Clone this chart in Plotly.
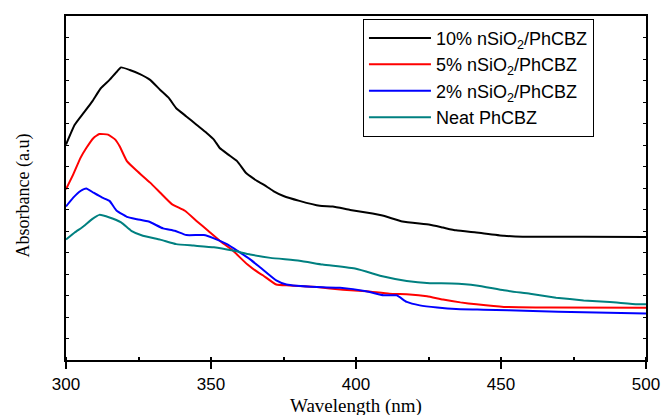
import plotly.graph_objects as go

# ---- data ----
wl_10 = [300, 303, 306, 309, 312, 315, 317.5, 319, 322, 325.5, 329, 332.5, 335.5, 338, 341.5, 345,
         348.5, 351, 353, 356, 359, 362, 363.5, 366, 368, 371.5, 375, 380.5, 387.5, 392, 398, 403.5,
         409.5, 416, 425.5, 430, 434.5, 441.5, 451, 457.5, 467, 478.5, 500]
abs_10 = [10.02, 10.94, 11.48, 12.02, 12.64, 13.03, 13.41, 13.61, 13.49, 13.30, 13.03, 12.56, 12.18,
          11.71, 11.33, 10.94, 10.56, 10.25, 9.86, 9.55, 9.25, 8.71, 8.55, 8.32, 8.17, 7.86, 7.63,
          7.40, 7.17, 7.14, 6.98, 6.86, 6.71, 6.44, 6.29, 6.16, 6.03, 5.93, 5.78, 5.73, 5.73, 5.73, 5.72]

wl_5 = [300, 302.5, 305, 307, 309.5, 311.5, 314.5, 317, 318.5, 321, 324.5, 329, 332.5, 336.5, 341,
        345, 349, 353, 357.5, 362.5, 366.5, 368, 372.5, 377, 386.5, 395.5, 403.5, 411.5, 418.5,
        424.5, 430, 436, 441.5, 451, 467, 500]
abs_5 = [7.94, 8.63, 9.40, 9.86, 10.33, 10.51, 10.48, 10.25, 9.94, 9.25, 8.79, 8.25, 7.78, 7.25,
         6.94, 6.47, 6.01, 5.55, 5.09, 4.45, 4.05, 3.93, 3.51, 3.47, 3.39, 3.27, 3.20, 3.08, 3.05,
         2.96, 2.81, 2.68, 2.59, 2.47, 2.44, 2.43]

wl_2 = [300, 302.5, 305, 307, 309.5, 312.5, 315, 317.5, 321, 324.5, 328.5, 333.5, 337.5, 341.5,
        347.5, 351, 355.5, 359, 363.5, 367, 372.5, 376, 386.5, 394.5, 403.5, 409.5, 414, 417.5,
        422, 428, 434.5, 444, 461, 478.5, 500]
abs_2 = [7.14, 7.55, 7.86, 7.98, 7.78, 7.55, 7.40, 6.94, 6.66, 6.55, 6.44, 6.12, 6.01, 5.81, 5.81,
         5.66, 5.39, 5.09, 4.68, 4.30, 3.70, 3.51, 3.39, 3.36, 3.20, 3.01, 3.01, 2.70, 2.54, 2.44,
         2.37, 2.34, 2.28, 2.22, 2.16]

wl_neat = [300, 303, 306, 309, 311.5, 315, 319, 322.5, 326.5, 332.5, 338, 344, 351, 357.5, 363.5,
           370.5, 380.5, 388.5, 400, 409.5, 417.5, 425.5, 433, 441.5, 451, 460, 469, 478.5, 487.5,
           497, 500]
abs_neat = [5.60, 5.93, 6.21, 6.55, 6.75, 6.63, 6.40, 6.01, 5.78, 5.60, 5.39, 5.32, 5.24, 5.09, 4.91,
            4.75, 4.62, 4.44, 4.24, 3.88, 3.67, 3.57, 3.56, 3.47, 3.24, 3.08, 2.90, 2.77, 2.70,
            2.59, 2.59]

names = ["10% nSiO<sub>2</sub>/PhCBZ", "5% nSiO<sub>2</sub>/PhCBZ",
         "2% nSiO<sub>2</sub>/PhCBZ", "Neat PhCBZ"]
colors = ["#000000", "#ff0000", "#0000ff", "#008080"]
x_ticks = [300, 350, 400, 450, 500]

series = [(wl_10, abs_10), (wl_5, abs_5), (wl_2, abs_2), (wl_neat, abs_neat)]

fig = go.Figure()
for (x, y), n, c in zip(series, names, colors):
    fig.add_trace(go.Scatter(x=x, y=y, mode="lines", name=n,
                             line=dict(color=c, width=2, shape="spline", smoothing=0.4)))

sans = "Liberation Sans, Arial, sans-serif"
serif = "Liberation Serif, Times New Roman, serif"

# page body has an 8px default margin: size the figure so it fits the 672x415 window
fig.update_layout(
    width=664, height=407,
    margin=dict(l=58, r=26, t=6, b=55),
    paper_bgcolor="white", plot_bgcolor="white",
    showlegend=True,
    legend=dict(x=0.512, y=0.992, xanchor="left", yanchor="top",
                bordercolor="black", borderwidth=1, bgcolor="white",
                font=dict(family=sans, size=18, color="black"),
                tracegroupgap=0, itemwidth=62),
    xaxis=dict(range=[300, 500], tickmode="array", tickvals=x_ticks,
               ticktext=[str(v) for v in x_ticks],
               ticks="outside", ticklen=7, tickwidth=2, tickcolor="black",
               ticklabelstandoff=1,
               showline=True, linecolor="black", linewidth=2, mirror=True,
               showgrid=False, zeroline=False,
               tickfont=dict(family=sans, size=17, color="black"),
               minor=dict(dtick=25, tick0=300, ticks="inside", ticklen=3, tickcolor="black")),
    xaxis2=dict(range=[300, 500], overlaying="x", side="top", dtick=25, tick0=300,
                ticks="inside", ticklen=3, tickcolor="black", showticklabels=False,
                showgrid=False, zeroline=False, showline=False),
    yaxis=dict(range=[0, 16], dtick=1, tick0=0, ticks="inside", ticklen=3, tickcolor="black",
               showticklabels=False, showline=True, linecolor="black", linewidth=2,
               mirror="ticks", showgrid=False, zeroline=False),
    annotations=[
        dict(text="Wavelength (nm)", xref="paper", yref="paper", x=0.5, y=-0.135,
             xanchor="center", yanchor="middle", showarrow=False,
             font=dict(family=serif, size=19, color="black")),
        dict(text="Absorbance (a.u)", xref="paper", yref="paper", x=-0.073, y=0.477,
             xanchor="center", yanchor="middle", showarrow=False, textangle=-90,
             font=dict(family=serif, size=18, color="black")),
    ],
)

fig.write_html("out.html")
